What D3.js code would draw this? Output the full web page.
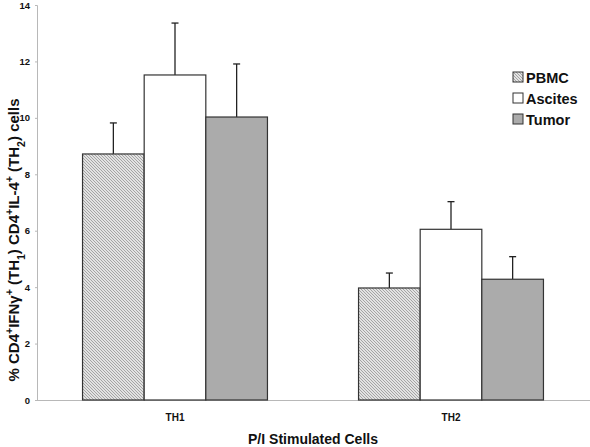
<!DOCTYPE html>
<html><head><meta charset="utf-8">
<script src="https://cdn.jsdelivr.net/npm/d3@7"></script>
<style>body{margin:0;background:#fff}svg{display:block;font-family:Arial,"Liberation Sans",sans-serif}</style>
</head><body>
<svg id="c" width="590" height="447"></svg>
<script>
const categories = ["TH1", "TH2"];
const series = ["PBMC", "Ascites", "Tumor"];
const means = {PBMC: [8.72, 3.97], Ascites: [11.52, 6.05], Tumor: [10.03, 4.28]};
const errors = {PBMC: [1.10, 0.53], Ascites: [1.84, 0.98], Tumor: [1.88, 0.80]};
const yTicks = [0, 2, 4, 6, 8, 10, 12, 14];

const svg = d3.select("#c");
const m = {left: 37, right: 589, top: 5, bottom: 400};
const y = d3.scaleLinear().domain([0, 14]).range([m.bottom, m.top]);
const x0 = d3.scaleBand().domain(categories).range([m.left, m.right]).paddingInner(0.33).paddingOuter(0.165);
const x1 = d3.scaleBand().domain(series).range([0, x0.bandwidth()]);

const defs = svg.append("defs");
const pat = defs.append("pattern").attr("id", "hatch").attr("patternUnits", "userSpaceOnUse")
  .attr("width", 3).attr("height", 3);
pat.append("rect").attr("width", 3).attr("height", 3).attr("fill", "#e2e2e2");
pat.append("path").attr("d", "M0,0 L3,3 M-1,2 L1,4 M2,-1 L4,1").attr("stroke", "#8a8a8a").attr("stroke-width", 0.7);

const fills = {PBMC: "url(#hatch)", Ascites: "#ffffff", Tumor: "#ababab"};

// axes
const yAxis = svg.append("g").attr("transform", `translate(${m.left},0)`)
  .call(d3.axisLeft(y).tickValues(yTicks).tickSize(2).tickPadding(5));
yAxis.attr("font-size", 9.5).attr("font-family", null);
yAxis.select(".domain").attr("stroke", "#b8b8b8");
yAxis.selectAll(".tick line").attr("stroke", "#b8b8b8");
yAxis.selectAll("text").attr("font-weight", "bold").attr("fill", "#111");

const xAxis = svg.append("g").attr("transform", `translate(0,${m.bottom})`)
  .call(d3.axisBottom(x0).tickSize(0).tickPadding(14));
xAxis.attr("font-size", 10).attr("font-family", null);
xAxis.select(".domain").attr("stroke", "#b8b8b8").attr("d", `M${m.left},0.5H590`);
xAxis.selectAll("text").attr("font-weight", "bold").attr("fill", "#111");

// bars
categories.forEach((c, ci) => {
  series.forEach(s => {
    const bx = x0(c) + x1(s);
    const v = means[s][ci], e = errors[s][ci];
    const cx = bx + x1.bandwidth() / 2;
    svg.append("line").attr("x1", cx).attr("x2", cx).attr("y1", y(v)).attr("y2", y(v + e))
      .attr("stroke", "#222").attr("stroke-width", 1.3);
    svg.append("line").attr("x1", cx - 3.5).attr("x2", cx + 3.5).attr("y1", y(v + e)).attr("y2", y(v + e))
      .attr("stroke", "#222").attr("stroke-width", 1.3);
    svg.append("rect").attr("x", bx).attr("y", y(v)).attr("width", x1.bandwidth()).attr("height", y(0) - y(v))
      .attr("fill", fills[s]).attr("stroke", "#333").attr("stroke-width", 1.2);
  });
});

// legend
const lg = svg.append("g").attr("transform", "translate(513,72)");
series.forEach((s, i) => {
  const g = lg.append("g").attr("transform", `translate(0,${i * 21})`);
  g.append("rect").attr("width", 10).attr("height", 10).attr("fill", fills[s]).attr("stroke", "#333").attr("stroke-width", 1);
  g.append("text").attr("x", 13).attr("y", 10.5).attr("font-size", 14.5).attr("font-weight", "bold").attr("fill", "#111").text(s);
});

// x title
svg.append("text").attr("x", 313).attr("y", 444).attr("text-anchor", "middle")
  .attr("font-size", 14).attr("font-weight", "bold").attr("fill", "#111").text("P/I Stimulated Cells");

// y title with super/subscripts
const yt = svg.append("text").attr("transform", "translate(19,240) rotate(-90)").attr("text-anchor", "middle")
  .attr("font-size", 15).attr("font-weight", "bold").attr("fill", "#111");
const parts = [["% CD4", 0], ["+", 1], ["IFN\u03B3", 0], ["+", 1], [" (TH", 0], ["1", -1], [") CD4", 0], ["+", 1], ["IL-4", 0], ["+", 1], [" (TH", 0], ["2", -1], [") cells", 0]];
parts.forEach(([t, k]) => {
  const ts = yt.append("tspan").text(t);
  if (k === 1) ts.attr("baseline-shift", "super").attr("font-size", 10.5);
  if (k === -1) ts.attr("baseline-shift", "sub").attr("font-size", 10.5);
});
</script>
</body></html>
